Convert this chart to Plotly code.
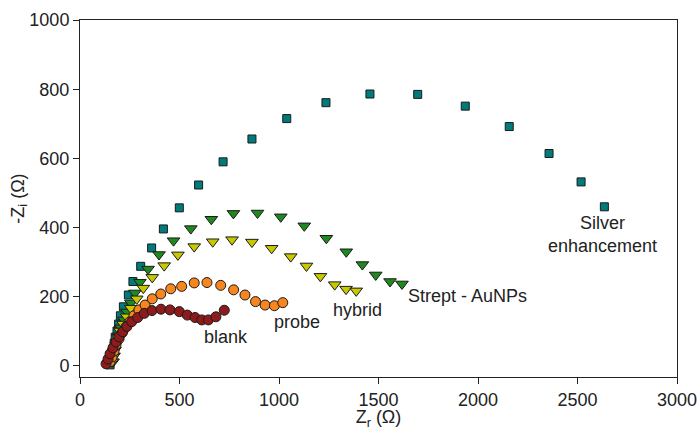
import plotly.graph_objects as go

# Data (Zr, -Zi) in ohm
blank_x = [131, 141, 151, 166, 181, 196, 215, 236, 260, 290, 323, 362, 407, 452, 499, 539, 578, 612, 645, 683, 725]
blank_y = [6, 20, 35, 52, 69, 84, 99, 114, 128, 140, 152, 160, 164, 162, 157, 147, 140, 133, 133, 142, 161]

probe_x = [151, 161, 171, 181, 196, 211, 231, 251, 271, 296, 327, 363, 406, 456, 511, 574, 638, 707, 772, 829, 882, 930, 977, 1019]
probe_y = [12, 26, 43, 61, 78, 95, 113, 128, 145, 162, 176, 194, 208, 223, 230, 240, 241, 233, 220, 205, 186, 176, 174, 183]

hybrid_x = [161, 166, 171, 181, 191, 201, 216, 235, 255, 285, 318, 363, 423, 492, 574, 667, 764, 864, 963, 1059, 1138, 1208, 1280, 1337, 1388]
hybrid_y = [12, 26, 43, 61, 81, 101, 121, 142, 167, 194, 225, 256, 290, 321, 345, 359, 365, 358, 340, 316, 289, 259, 235, 222, 217]

strept_x = [166, 171, 176, 186, 196, 206, 221, 236, 256, 276, 301, 342, 397, 470, 557, 660, 771, 892, 1009, 1127, 1238, 1338, 1419, 1486, 1558, 1618]
strept_y = [12, 29, 46, 66, 87, 110, 133, 156, 182, 211, 242, 280, 322, 362, 397, 424, 441, 442, 431, 405, 369, 330, 293, 263, 244, 237]

silver_x = [151, 153, 159, 162, 167, 172, 177, 186, 194, 203, 218, 243, 266, 305, 360, 419, 499, 596, 719, 864, 1039, 1236, 1457, 1697, 1936, 2157, 2357, 2518, 2635]
silver_y = [3, 12, 23, 37, 51, 66, 83, 101, 121, 145, 171, 205, 244, 288, 341, 396, 457, 523, 590, 656, 715, 761, 786, 785, 751, 692, 614, 532, 460]

x_ticks = [0, 500, 1000, 1500, 2000, 2500, 3000]
y_ticks = [0, 200, 400, 600, 800, 1000]

labels = ["blank", "probe", "hybrid", "Strept - AuNPs", "Silver<br>enhancement"]
label_x = [734, 1090, 1392, 1945, 2628]
label_y = [84, 127, 162, 202, 379]

fig = go.Figure()
line = dict(color="#1a1a1a", width=1)
fig.add_trace(go.Scatter(x=silver_x, y=silver_y, mode="markers", name="Silver enhancement",
                         marker=dict(symbol="square", size=8, color="#007b7b", line=line)))
fig.add_trace(go.Scatter(x=strept_x, y=strept_y, mode="markers", name="Strept - AuNPs",
                         marker=dict(symbol="triangle-down", size=11, color="#1e8a1e", line=line)))
fig.add_trace(go.Scatter(x=hybrid_x, y=hybrid_y, mode="markers", name="hybrid",
                         marker=dict(symbol="triangle-down", size=11, color="#c8c800", line=line)))
fig.add_trace(go.Scatter(x=probe_x, y=probe_y, mode="markers", name="probe",
                         marker=dict(symbol="circle", size=10, color="#f7861e", line=line)))
fig.add_trace(go.Scatter(x=blank_x, y=blank_y, mode="markers", name="blank",
                         marker=dict(symbol="circle", size=10, color="#8e1b1b", line=line)))

for t, lx, ly in zip(labels, label_x, label_y):
    fig.add_annotation(x=lx, y=ly, text=t, showarrow=False,
                       font=dict(size=18, color="#222222"), align="center")

axis_common = dict(showgrid=False, zeroline=False, showline=True, linecolor="#222222",
                   linewidth=1, mirror=True, ticks="outside", ticklen=6, tickcolor="#222222",
                   tickfont=dict(size=18, color="#222222"), automargin=False)
fig.update_xaxes(range=[0, 3000], tickvals=x_ticks, **axis_common,
                 title=dict(text="Z<sub>r</sub> (Ω)", font=dict(size=18, color="#222222"), standoff=3))
fig.update_yaxes(range=[-32, 1000], tickvals=y_ticks, **axis_common,
                 title=dict(text="-Z<sub>i</sub> (Ω)", font=dict(size=18, color="#222222"), standoff=0))

fig.update_layout(width=699, height=430, showlegend=False,
                  paper_bgcolor="white", plot_bgcolor="white",
                  font=dict(family="Liberation Sans, Arial, sans-serif"),
                  margin=dict(l=80, r=22, t=20, b=53))
fig.write_html("out.html", config={"displayModeBar": False},
               post_script="document.body.style.margin='0';")
